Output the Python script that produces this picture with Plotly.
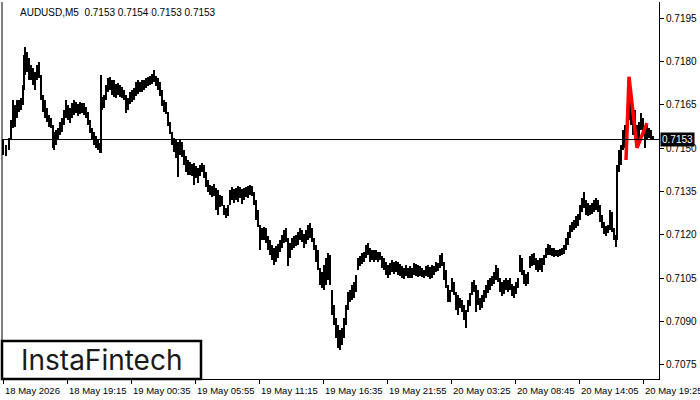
import plotly.graph_objects as go

# ---- data (AUDUSD M5) ----
bar_index = [0, 3, 6, 8, 10, 12, 14, 16, 18, 20, 21, 22, 24, 26, 28, 30, 32, 34, 36, 38, 40, 42, 44, 46, 48, 50, 51, 53, 55, 57, 59, 61, 63, 65, 67, 69, 71, 73, 75, 77, 79, 81, 83, 85, 87, 89, 91, 93, 95, 97, 98, 99, 101, 103, 105, 107, 109, 111, 113, 115, 117, 119, 121, 123, 125, 127, 129, 131, 133, 135, 137, 139, 141, 143, 145, 147, 149, 151, 153, 155, 157, 159, 161, 163, 165, 167, 169, 171, 173, 175, 177, 179, 181, 183, 185, 187, 189, 191, 193, 195, 197, 199, 201, 203, 205, 207, 209, 211, 213, 215, 217, 219, 221, 223, 225, 227, 229, 231, 233, 235, 237, 239, 241, 243, 245, 247, 249, 251, 253, 255, 257, 259, 261, 263, 265, 267, 269, 271, 273, 275, 277, 279, 281, 283, 285, 287, 289, 291, 293, 295, 297, 299, 301, 303, 305, 307, 309, 311, 313, 315, 317, 319, 321, 323, 325, 327, 329, 331, 333, 335, 337, 339, 341, 343, 345, 347, 349, 351, 353, 355, 357, 359, 361, 363, 365, 367, 369, 371, 373, 375, 377, 379, 381, 383, 385, 387, 389, 391, 393, 395, 397, 399, 401, 403, 405, 407, 409, 411, 413, 415, 417, 419, 421, 423, 425, 427, 429, 431, 433, 435, 437, 439, 441, 443, 445, 447, 449, 451, 453, 455, 457, 459, 461, 463, 465, 467, 469, 471, 473, 475, 477, 479, 481, 483, 485, 487, 489, 491, 493, 495, 497, 499, 501, 503, 505, 507, 509, 511, 513, 515, 517, 519, 521, 523, 525, 527, 529, 531, 533, 535, 537, 539, 541, 543, 545, 547, 549, 551, 553, 555, 557, 559, 561, 563, 565, 567, 569, 571, 573, 575, 577, 579, 581, 583, 585, 587, 589, 591, 593, 595, 597, 599, 601, 603, 605, 607, 609, 611, 613, 614, 616, 618, 620, 622, 624, 626, 628, 630, 632, 634, 636, 638, 640, 642, 644, 646, 648, 650]
high = [0.71528, 0.71511, 0.71535, 0.71598, 0.71667, 0.71650, 0.71667, 0.71667, 0.71674, 0.71719, 0.71823, 0.71851, 0.71833, 0.71813, 0.71788, 0.71778, 0.71764, 0.71788, 0.71799, 0.71754, 0.71684, 0.71667, 0.71639, 0.71615, 0.71605, 0.71580, 0.71556, 0.71563, 0.71570, 0.71591, 0.71605, 0.71632, 0.71667, 0.71650, 0.71639, 0.71657, 0.71667, 0.71660, 0.71653, 0.71660, 0.71657, 0.71657, 0.71643, 0.71625, 0.71598, 0.71570, 0.71556, 0.71542, 0.71528, 0.71518, 0.71754, 0.71677, 0.71684, 0.71719, 0.71743, 0.71747, 0.71736, 0.71736, 0.71722, 0.71726, 0.71719, 0.71712, 0.71702, 0.71684, 0.71674, 0.71695, 0.71702, 0.71709, 0.71729, 0.71736, 0.71729, 0.71736, 0.71736, 0.71743, 0.71747, 0.71750, 0.71757, 0.71771, 0.71750, 0.71743, 0.71729, 0.71702, 0.71667, 0.71660, 0.71625, 0.71591, 0.71556, 0.71535, 0.71528, 0.71522, 0.71528, 0.71522, 0.71494, 0.71473, 0.71459, 0.71452, 0.71445, 0.71449, 0.71438, 0.71431, 0.71442, 0.71449, 0.71442, 0.71418, 0.71390, 0.71373, 0.71369, 0.71376, 0.71362, 0.71355, 0.71338, 0.71334, 0.71303, 0.71293, 0.71303, 0.71355, 0.71366, 0.71359, 0.71362, 0.71369, 0.71366, 0.71359, 0.71362, 0.71366, 0.71369, 0.71373, 0.71369, 0.71348, 0.71321, 0.71286, 0.71234, 0.71224, 0.71227, 0.71224, 0.71196, 0.71182, 0.71165, 0.71154, 0.71161, 0.71168, 0.71182, 0.71199, 0.71217, 0.71224, 0.71189, 0.71172, 0.71189, 0.71196, 0.71199, 0.71210, 0.71224, 0.71217, 0.71203, 0.71217, 0.71234, 0.71241, 0.71224, 0.71189, 0.71165, 0.71147, 0.71085, 0.71071, 0.71096, 0.71120, 0.71137, 0.71130, 0.71009, 0.70957, 0.70912, 0.70888, 0.70870, 0.70877, 0.70912, 0.70957, 0.71002, 0.71009, 0.71026, 0.71037, 0.71061, 0.71120, 0.71127, 0.71137, 0.71140, 0.71165, 0.71172, 0.71154, 0.71147, 0.71147, 0.71147, 0.71140, 0.71140, 0.71127, 0.71120, 0.71106, 0.71096, 0.71102, 0.71113, 0.71106, 0.71109, 0.71106, 0.71099, 0.71092, 0.71085, 0.71096, 0.71085, 0.71092, 0.71085, 0.71102, 0.71099, 0.71096, 0.71092, 0.71085, 0.71078, 0.71092, 0.71096, 0.71089, 0.71096, 0.71092, 0.71106, 0.71102, 0.71130, 0.71137, 0.71106, 0.71078, 0.71026, 0.71009, 0.71051, 0.71037, 0.71002, 0.70991, 0.70981, 0.70974, 0.70957, 0.70940, 0.70974, 0.70998, 0.71037, 0.71044, 0.71026, 0.71009, 0.70981, 0.70991, 0.71009, 0.71026, 0.71044, 0.71051, 0.71058, 0.71071, 0.71096, 0.71085, 0.71051, 0.71037, 0.71044, 0.71051, 0.71044, 0.71051, 0.71030, 0.71023, 0.71037, 0.71051, 0.71130, 0.71120, 0.71078, 0.71064, 0.71071, 0.71127, 0.71134, 0.71137, 0.71120, 0.71113, 0.71120, 0.71120, 0.71130, 0.71154, 0.71168, 0.71165, 0.71154, 0.71154, 0.71147, 0.71147, 0.71150, 0.71154, 0.71165, 0.71189, 0.71210, 0.71234, 0.71244, 0.71251, 0.71265, 0.71272, 0.71303, 0.71328, 0.71348, 0.71321, 0.71310, 0.71303, 0.71310, 0.71321, 0.71328, 0.71321, 0.71303, 0.71269, 0.71244, 0.71230, 0.71234, 0.71286, 0.71279, 0.71224, 0.71199, 0.71442, 0.71494, 0.71511, 0.71563, 0.71580, 0.71632, 0.71719, 0.71684, 0.71650, 0.71632, 0.71580, 0.71591, 0.71622, 0.71605, 0.71563, 0.71580, 0.71570, 0.71563, 0.71542]
low = [0.71476, 0.71473, 0.71494, 0.71528, 0.71570, 0.71574, 0.71605, 0.71625, 0.71632, 0.71650, 0.71702, 0.71754, 0.71764, 0.71736, 0.71736, 0.71719, 0.71702, 0.71736, 0.71743, 0.71667, 0.71625, 0.71605, 0.71591, 0.71574, 0.71570, 0.71501, 0.71494, 0.71511, 0.71528, 0.71546, 0.71556, 0.71580, 0.71605, 0.71598, 0.71587, 0.71605, 0.71615, 0.71622, 0.71612, 0.71619, 0.71622, 0.71615, 0.71605, 0.71580, 0.71553, 0.71528, 0.71511, 0.71501, 0.71494, 0.71483, 0.71483, 0.71632, 0.71639, 0.71667, 0.71695, 0.71702, 0.71684, 0.71677, 0.71674, 0.71684, 0.71677, 0.71674, 0.71667, 0.71622, 0.71632, 0.71653, 0.71660, 0.71667, 0.71681, 0.71688, 0.71695, 0.71695, 0.71702, 0.71709, 0.71716, 0.71719, 0.71722, 0.71729, 0.71716, 0.71702, 0.71681, 0.71646, 0.71625, 0.71619, 0.71577, 0.71549, 0.71511, 0.71487, 0.71466, 0.71400, 0.71476, 0.71470, 0.71442, 0.71418, 0.71407, 0.71407, 0.71404, 0.71373, 0.71397, 0.71380, 0.71404, 0.71418, 0.71397, 0.71366, 0.71348, 0.71338, 0.71331, 0.71334, 0.71286, 0.71269, 0.71296, 0.71300, 0.71269, 0.71258, 0.71265, 0.71303, 0.71321, 0.71310, 0.71321, 0.71314, 0.71328, 0.71307, 0.71321, 0.71331, 0.71328, 0.71338, 0.71334, 0.71303, 0.71251, 0.71227, 0.71147, 0.71182, 0.71182, 0.71172, 0.71147, 0.71130, 0.71113, 0.71096, 0.71106, 0.71120, 0.71140, 0.71154, 0.71172, 0.71175, 0.71092, 0.71120, 0.71147, 0.71154, 0.71161, 0.71165, 0.71182, 0.71175, 0.71154, 0.71168, 0.71182, 0.71189, 0.71175, 0.71147, 0.71106, 0.71078, 0.71026, 0.71016, 0.71009, 0.71026, 0.71044, 0.71026, 0.70922, 0.70888, 0.70843, 0.70808, 0.70801, 0.70818, 0.70843, 0.70888, 0.70940, 0.70967, 0.70974, 0.70981, 0.71002, 0.71078, 0.71092, 0.71099, 0.71106, 0.71120, 0.71130, 0.71106, 0.71113, 0.71106, 0.71113, 0.71106, 0.71113, 0.71085, 0.71078, 0.71061, 0.71051, 0.71061, 0.71071, 0.71064, 0.71071, 0.71061, 0.71058, 0.71051, 0.71047, 0.71058, 0.71051, 0.71051, 0.71051, 0.71061, 0.71058, 0.71054, 0.71058, 0.71054, 0.71051, 0.71058, 0.71054, 0.71047, 0.71051, 0.71061, 0.71071, 0.71075, 0.71085, 0.71092, 0.71044, 0.71016, 0.70967, 0.70967, 0.71002, 0.70991, 0.70940, 0.70922, 0.70946, 0.70933, 0.70905, 0.70877, 0.70933, 0.70953, 0.70991, 0.71002, 0.70933, 0.70957, 0.70940, 0.70946, 0.70967, 0.70981, 0.70998, 0.71009, 0.71023, 0.71030, 0.71044, 0.71037, 0.71002, 0.70988, 0.70995, 0.71009, 0.71002, 0.71009, 0.70988, 0.70981, 0.70995, 0.71016, 0.71071, 0.71061, 0.71030, 0.71023, 0.71030, 0.71085, 0.71092, 0.71096, 0.71078, 0.71071, 0.71078, 0.71071, 0.71096, 0.71120, 0.71130, 0.71130, 0.71127, 0.71123, 0.71127, 0.71123, 0.71127, 0.71130, 0.71134, 0.71147, 0.71165, 0.71189, 0.71210, 0.71217, 0.71224, 0.71230, 0.71251, 0.71279, 0.71293, 0.71269, 0.71265, 0.71269, 0.71272, 0.71279, 0.71286, 0.71279, 0.71244, 0.71224, 0.71203, 0.71196, 0.71206, 0.71217, 0.71210, 0.71182, 0.71158, 0.71182, 0.71418, 0.71442, 0.71494, 0.71501, 0.71528, 0.71598, 0.71580, 0.71546, 0.71528, 0.71511, 0.71522, 0.71563, 0.71546, 0.71501, 0.71528, 0.71535, 0.71531, 0.71528]

# highlighted pattern (red)
pattern_bar = [623, 626, 634, 644]
pattern_price = [0.71459, 0.71747, 0.71501, 0.71587]

last_price = 0.7153
title_text = "AUDUSD,M5  0.7153 0.7154 0.7153 0.7153"
y_ticks = [0.7075, 0.7090, 0.7105, 0.7120, 0.7135, 0.7150, 0.7165, 0.7180, 0.7195]
x_tick_bars = [0, 64, 128, 192, 256, 320, 384, 448, 512, 576, 640]
x_tick_labels = ["18 May 2026", "18 May 19:15", "19 May 00:35", "19 May 05:55",
                 "19 May 11:15", "19 May 16:35", "19 May 21:55", "20 May 03:25",
                 "20 May 08:45", "20 May 14:05", "20 May 19:25"]

FONT = "Liberation Sans"

fig = go.Figure()
fig.add_trace(go.Bar(
    x=bar_index,
    y=[h - l for h, l in zip(high, low)],
    base=low,
    width=2.2,
    marker=dict(color="black", line=dict(width=0)),
    hoverinfo="skip",
    showlegend=False,
))
fig.add_trace(go.Scatter(
    x=pattern_bar, y=pattern_price, mode="lines",
    line=dict(color="#ff0000", width=3.5),
    hoverinfo="skip", showlegend=False,
))

# current price line
fig.add_shape(type="line", xref="paper", x0=0, x1=1, yref="y",
              y0=last_price, y1=last_price, line=dict(color="black", width=1))
# left frame line
fig.add_shape(type="line", xref="paper", x0=0, x1=0, yref="paper",
              y0=0, y1=1, line=dict(color="black", width=1))

# logo box
fig.add_shape(type="rect", xref="paper", yref="paper",
              x0=0.0, x1=0.3029, y0=0.0, y1=0.1008,
              line=dict(color="black", width=2.5), fillcolor="white")
fig.add_annotation(xref="paper", yref="paper", x=0.1515, y=0.05,
                   text="InstaFintech", showarrow=False,
                   font=dict(family="Inter", size=28, color="#1a1a1a"),
                   xanchor="center", yanchor="middle")

# title
fig.add_annotation(xref="paper", yref="paper", x=0, y=1, xshift=16, yshift=-3,
                   xanchor="left", yanchor="top", text=title_text, showarrow=False,
                   font=dict(family=FONT, size=10, color="black"))

# price label
fig.add_annotation(xref="paper", yref="y", x=1, y=last_price, xshift=1,
                   xanchor="left", yanchor="middle", text=f"{last_price:.4f}",
                   showarrow=False, bgcolor="black", borderpad=1,
                   font=dict(family=FONT, size=10, color="white"))

# x labels (left aligned at tick, MT4 style)
for b, t in zip(x_tick_bars, x_tick_labels):
    fig.add_annotation(xref="x", yref="paper", x=b, y=0, yshift=-4,
                       xanchor="left", yanchor="top", text=t, showarrow=False,
                       font=dict(family=FONT, size=9.5, color="black"))

fig.update_layout(
    width=700, height=400,
    margin=dict(l=2, r=41, t=2, b=21),
    paper_bgcolor="white", plot_bgcolor="white",
    showlegend=False, bargap=0,
    xaxis=dict(range=[-1, 656], showgrid=False, zeroline=False,
               showline=True, linecolor="black", linewidth=1,
               ticks="outside", ticklen=4, tickcolor="black",
               tickvals=x_tick_bars, showticklabels=False),
    yaxis=dict(range=[0.707014, 0.720059], side="right", showgrid=False,
               zeroline=False, showline=True, linecolor="black", linewidth=1,
               ticks="outside", ticklen=4, tickcolor="black",
               tickvals=y_ticks, tickformat=".4f",
               tickfont=dict(family=FONT, size=10, color="black")),
)

fig.write_html("out.html", config={"displayModeBar": False},
               post_script="document.body.style.margin='0';document.body.style.overflow='hidden';")
